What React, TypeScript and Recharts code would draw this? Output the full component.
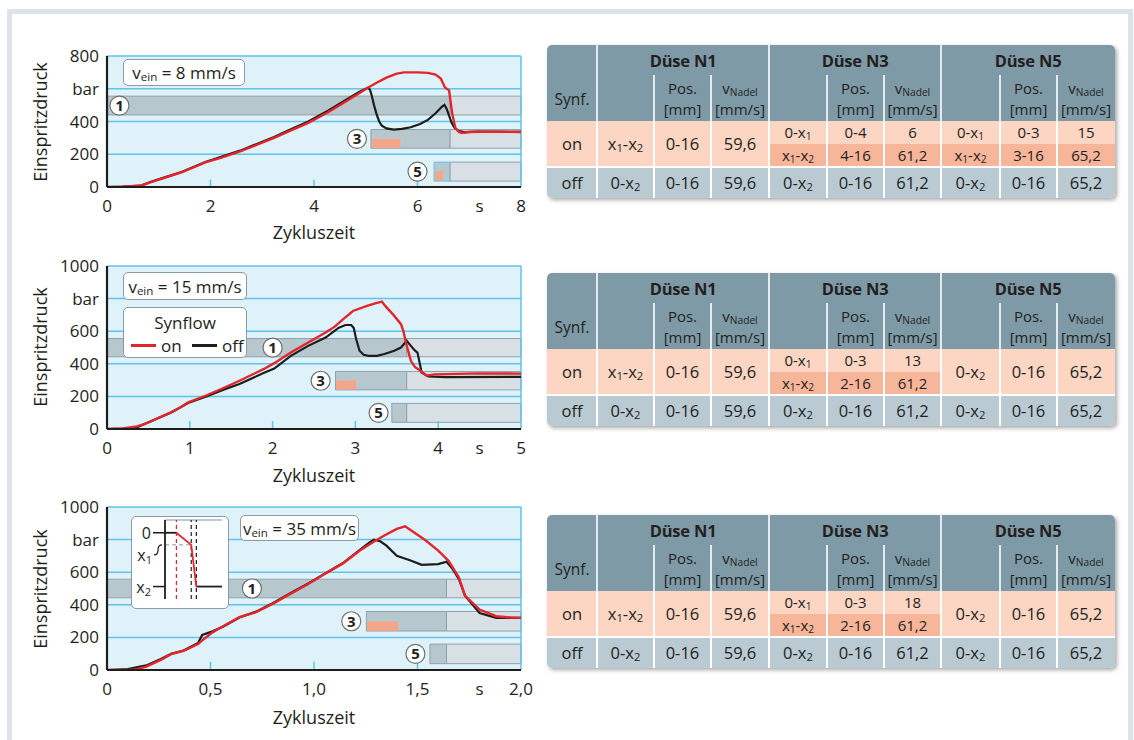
import React from 'react';
import {
  ComposedChart,
  Line,
  XAxis,
  YAxis,
  ReferenceArea,
  ReferenceLine,
  ReferenceDot,
  CartesianGrid,
  Legend,
} from 'recharts';

const FONT = '"Open Sans", "Noto Sans", "DejaVu Sans", sans-serif';
const TXT = '#231f20';
const PLOT_BG = '#dff2fa';
const GRID = '#5fc3ea';
const RED = '#e3262b';
const BLACK = '#1d1d1b';

type Pt = [number, number];
type BarSeg = { x1: number; x2: number; y1: number; y2: number; kind: string };
type Marker = { x: number; y: number; label: string };

// ---------------- Chart 1: v_ein = 8 mm/s ----------------
const c1On: Pt[] = [
  [0, 0], [0.3, 2], [0.65, 8], [0.85, 30], [1.1, 55], [1.44, 90], [1.6, 110], [1.9, 151], [2.2, 178],
  [2.57, 218], [2.9, 258], [3.23, 300], [3.5, 338], [3.89, 392], [4.28, 458], [4.55, 510], [4.88, 574],
  [5.04, 606], [5.21, 637], [5.4, 668], [5.6, 692], [5.74, 700], [6.0, 700], [6.2, 697], [6.35, 686],
  [6.45, 662], [6.53, 608], [6.61, 590], [6.64, 520], [6.67, 450], [6.73, 362], [6.8, 336], [6.86, 330],
  [7.0, 336], [7.19, 337], [7.6, 337], [8, 336],
];
const c1Off: Pt[] = [
  [0, 0], [0.3, 2], [0.65, 8], [0.85, 32], [1.1, 58], [1.44, 92], [1.9, 153], [2.57, 222], [3.23, 305],
  [3.5, 345], [3.89, 400], [4.28, 468], [4.55, 520], [4.88, 582], [5.04, 606], [5.08, 595], [5.11, 565],
  [5.16, 500], [5.21, 443], [5.26, 400], [5.31, 375], [5.4, 358], [5.54, 350], [5.7, 355], [5.87, 365],
  [6.05, 385], [6.2, 410], [6.35, 450], [6.47, 490], [6.52, 502], [6.56, 480], [6.6, 445], [6.66, 392],
  [6.72, 360], [6.8, 341], [6.9, 335], [7.19, 338], [8, 337],
];
const c1XTicks = [0, 2, 4, 6, 7.2, 8];
const c1XLabels = ['0', '2', '4', '6', 's', '8'];
const c1YTicks = [0, 200, 400, 600, 800];
const c1YLabels = ['0', '200', '400', 'bar', '800'];
const c1Stubs = [2, 4, 6];
const c1Grid = [200, 400, 600, 800];
const c1Bars: BarSeg[] = [
  { x1: 0, x2: 6.63, y1: 440, y2: 555, kind: 'dark' },
  { x1: 6.63, x2: 8, y1: 440, y2: 555, kind: 'light' },
  { x1: 5.1, x2: 6.63, y1: 237, y2: 351, kind: 'dark' },
  { x1: 6.63, x2: 8, y1: 237, y2: 351, kind: 'light' },
  { x1: 5.12, x2: 5.67, y1: 240, y2: 294, kind: 'salmon' },
  { x1: 6.32, x2: 6.63, y1: 36, y2: 152, kind: 'darkHi' },
  { x1: 6.63, x2: 8, y1: 36, y2: 152, kind: 'light' },
  { x1: 6.34, x2: 6.49, y1: 38, y2: 96, kind: 'salmon' },
];
const c1Markers: Marker[] = [
  { x: 0.24, y: 497, label: '1' },
  { x: 4.83, y: 294, label: '3' },
  { x: 6.0, y: 94, label: '5' },
];

// ---------------- Chart 2: v_ein = 15 mm/s ----------------
const c2On: Pt[] = [
  [0, 0], [0.19, 4], [0.36, 16], [0.45, 30], [0.53, 47], [0.65, 75], [0.77, 102], [0.88, 130], [0.98, 163],
  [1.19, 204], [1.4, 250], [1.6, 296], [1.8, 345], [1.89, 367], [2.02, 404], [2.22, 469], [2.43, 531],
  [2.64, 592], [2.75, 628], [2.85, 673], [2.97, 724], [3.14, 755], [3.25, 772], [3.32, 782], [3.36, 755],
  [3.47, 694], [3.55, 643], [3.58, 600], [3.61, 531], [3.67, 418], [3.72, 380], [3.76, 367], [3.86, 327],
  [3.96, 335], [4.5, 341], [5, 340],
];
const c2Off: Pt[] = [
  [0, 0], [0.2, 3], [0.36, 10], [0.53, 47], [0.77, 100], [0.98, 159], [1.2, 200], [1.4, 240], [1.6, 276],
  [1.89, 343], [2.02, 371], [2.22, 449], [2.43, 510], [2.64, 561], [2.8, 622], [2.88, 638], [2.95, 638],
  [2.98, 620], [3.01, 551], [3.05, 480], [3.1, 455], [3.16, 449], [3.26, 449], [3.35, 460], [3.47, 480],
  [3.55, 500], [3.62, 541], [3.67, 510], [3.72, 480], [3.75, 469], [3.8, 347], [3.88, 322], [4.09, 318],
  [5, 320],
];
const c2XTicks = [0, 1, 2, 3, 4, 4.5, 5];
const c2XLabels = ['0', '1', '2', '3', '4', 's', '5'];
const c2YTicks = [0, 200, 400, 600, 800, 1000];
const c2YLabels = ['0', '200', '400', '600', 'bar', '1000'];
const c2Stubs = [1, 2, 3, 4];
const c2Grid = [200, 400, 600, 800, 1000];
const c2Bars: BarSeg[] = [
  { x1: 0, x2: 3.62, y1: 443, y2: 555, kind: 'dark' },
  { x1: 3.62, x2: 5, y1: 443, y2: 555, kind: 'light' },
  { x1: 2.76, x2: 3.62, y1: 240, y2: 353, kind: 'dark' },
  { x1: 3.62, x2: 5, y1: 240, y2: 353, kind: 'light' },
  { x1: 2.77, x2: 3.01, y1: 242, y2: 298, kind: 'salmon' },
  { x1: 3.44, x2: 3.62, y1: 41, y2: 157, kind: 'dark' },
  { x1: 3.62, x2: 5, y1: 41, y2: 157, kind: 'light' },
];
const c2Markers: Marker[] = [
  { x: 2.0, y: 499, label: '1' },
  { x: 2.58, y: 296, label: '3' },
  { x: 3.28, y: 99, label: '5' },
];

// ---------------- Chart 3: v_ein = 35 mm/s ----------------
const c3On: Pt[] = [
  [0, 0], [0.1, 1], [0.14, 4], [0.19, 21], [0.26, 62], [0.31, 97], [0.37, 118], [0.44, 159], [0.47, 192],
  [0.51, 231], [0.56, 268], [0.64, 324], [0.72, 355], [0.8, 406], [0.89, 470], [0.97, 526], [1.05, 588],
  [1.14, 654], [1.22, 732], [1.29, 788], [1.34, 825], [1.4, 866], [1.44, 882], [1.47, 856], [1.54, 794],
  [1.6, 732], [1.65, 670], [1.7, 567], [1.73, 454], [1.8, 371], [1.88, 330], [1.95, 322], [2.0, 320],
];
const c3Off: Pt[] = [
  [0, 0], [0.1, 5], [0.19, 28], [0.26, 68], [0.31, 100], [0.37, 120], [0.44, 165], [0.46, 215], [0.51, 237],
  [0.56, 265], [0.64, 322], [0.72, 358], [0.8, 410], [0.89, 474], [0.97, 530], [1.05, 590], [1.14, 656],
  [1.22, 735], [1.27, 785], [1.29, 800], [1.32, 790], [1.35, 763], [1.4, 700], [1.47, 670], [1.52, 645],
  [1.6, 650], [1.64, 664], [1.67, 619], [1.7, 557], [1.73, 454], [1.8, 350], [1.88, 320], [2.0, 320],
];
const c3XTicks = [0, 0.5, 1, 1.5, 1.8, 2];
const c3XLabels = ['0', '0,5', '1,0', '1,5', 's', '2,0'];
const c3YTicks = [0, 200, 400, 600, 800, 1000];
const c3YLabels = ['0', '200', '400', '600', 'bar', '1000'];
const c3Stubs = [0.5, 1, 1.5];
const c3Grid = [200, 400, 600, 800, 1000];
const c3Bars: BarSeg[] = [
  { x1: 0, x2: 1.64, y1: 443, y2: 557, kind: 'dark' },
  { x1: 1.64, x2: 2, y1: 443, y2: 557, kind: 'light' },
  { x1: 1.253, x2: 1.64, y1: 239, y2: 359, kind: 'dark' },
  { x1: 1.64, x2: 2, y1: 239, y2: 359, kind: 'light' },
  { x1: 1.256, x2: 1.406, y1: 241, y2: 297, kind: 'salmon' },
  { x1: 1.56, x2: 1.64, y1: 39, y2: 159, kind: 'dark' },
  { x1: 1.64, x2: 2, y1: 39, y2: 159, kind: 'light' },
];
const c3Markers: Marker[] = [
  { x: 0.7, y: 500, label: '1' },
  { x: 1.18, y: 299, label: '3' },
  { x: 1.49, y: 99, label: '5' },
];

// ---------------- Inset (needle position schematic) ----------------
const insetRed: Pt[] = [[2, 0], [4.6, 3.6], [5.5, 16]];
const insetBlackA: Pt[] = [[0, 0], [2, 0]];
const insetBlackB: Pt[] = [[5.5, 16], [10, 16]];
const insetYTicks = [0, 3.6, 16];
const insetYLabels = ['0', 'x1', 'x2'];
const insetRedDash = 2;
const insetBlackDash = [4.6, 5.5];

// ---------------- Tables ----------------
const groupTitles = ['Düse N1', 'Düse N3', 'Düse N5'];
const subHeads = [['', ''], ['Pos.', '[mm]'], ['v_Nadel', '[mm/s]']];
const rowLabels = ['on', 'off'];
const table1On = [
  [['x1-x2', '0-16', '59,6']],
  [['0-x1', '0-4', '6'], ['x1-x2', '4-16', '61,2']],
  [['0-x1', '0-3', '15'], ['x1-x2', '3-16', '65,2']],
];
const table2On = [
  [['x1-x2', '0-16', '59,6']],
  [['0-x1', '0-3', '13'], ['x1-x2', '2-16', '61,2']],
  [['0-x2', '0-16', '65,2']],
];
const table3On = [
  [['x1-x2', '0-16', '59,6']],
  [['0-x1', '0-3', '18'], ['x1-x2', '2-16', '61,2']],
  [['0-x2', '0-16', '65,2']],
];
const tableOff = [
  ['0-x2', '0-16', '59,6'],
  ['0-x2', '0-16', '61,2'],
  ['0-x2', '0-16', '65,2'],
];

const toData = (pts: Pt[]) => pts.map(([t, p]) => ({ t, p }));

const barStyle = (kind: string) => {
  switch (kind) {
    case 'dark':
      return { fill: '#b7c7ce', stroke: '#8fa2ab' };
    case 'darkHi':
      return { fill: '#b7c7ce', stroke: '#5fc3ea' };
    case 'light':
      return { fill: '#d9e0e5', stroke: '#8fa2ab' };
    default:
      return { fill: '#f5a689', stroke: 'none' };
  }
};

const SUB: React.CSSProperties = { fontSize: '0.68em', verticalAlign: '-0.2em', lineHeight: 0 };

const rich = (s: string) => {
  if (s.startsWith('v_')) {
    return (
      <span>
        v<sub style={SUB}>{s.slice(2)}</sub>
      </span>
    );
  }
  return s.split(/(x\d)/).map((part, i) =>
    /^x\d$/.test(part) ? (
      <span key={i}>
        x<sub style={SUB}>{part[1]}</sub>
      </span>
    ) : (
      <span key={i}>{part}</span>
    )
  );
};

const LegendBox = (props: any) => {
  const order = ['on', 'off'];
  const items = [...(props.payload || [])].sort(
    (a: any, b: any) => order.indexOf(a.value) - order.indexOf(b.value)
  );
  return (
    <div
      style={{
        position: 'relative',
        width: 124,
        height: 51,
        boxSizing: 'border-box',
        border: '1px solid #8b9ba4',
        borderRadius: 5,
        background: '#fff',
        fontFamily: FONT,
        color: TXT,
      }}
    >
      <div style={{ position: 'absolute', left: 0, right: 0, top: 3, textAlign: 'center', fontSize: 17 }}>
        Synflow
      </div>
      {items.map((it: any, i: number) => (
        <div
          key={it.value}
          style={{ position: 'absolute', left: i === 0 ? 7 : 68, top: 26, display: 'flex', alignItems: 'center', fontSize: 17 }}
        >
          <span style={{ display: 'inline-block', width: 25, height: 3, background: it.color, marginRight: 5 }} />
          <span>{it.value}</span>
        </div>
      ))}
    </div>
  );
};

type ChartProps = {
  top: number;
  height: number;
  margin: { top: number; right: number; bottom: number; left: number };
  xDomain: [number, number];
  yDomain: [number, number];
  xTicks: number[];
  xLabels: string[];
  yTicks: number[];
  yLabels: string[];
  stubs: number[];
  stubH: number;
  grid: number[];
  bars: BarSeg[];
  markers: Marker[];
  on: Pt[];
  off: Pt[];
  legend?: boolean;
};

function PressureChart(p: ChartProps) {
  return (
    <div style={{ position: 'absolute', left: 0, top: p.top, width: 540, height: p.height }}>
      <ComposedChart width={540} height={p.height} margin={p.margin} style={{ fontFamily: FONT }}>
        <CartesianGrid fill={PLOT_BG} horizontal={false} vertical={false} stroke="none" />
        <XAxis
          type="number"
          dataKey="t"
          domain={p.xDomain}
          ticks={p.xTicks}
          interval={0}
          allowDataOverflow
          tickFormatter={(v: number) => p.xLabels[p.xTicks.indexOf(v)] ?? String(v)}
          axisLine={{ stroke: BLACK, strokeWidth: 2.2 }}
          tickLine={false}
          tickSize={6}
          tickMargin={7}
          height={30}
          tick={{ fontSize: 17, fill: TXT, fontFamily: FONT }}
        />
        <YAxis
          type="number"
          domain={p.yDomain}
          ticks={p.yTicks}
          interval={0}
          allowDataOverflow
          tickFormatter={(v: number) => p.yLabels[p.yTicks.indexOf(v)] ?? String(v)}
          axisLine={{ stroke: BLACK, strokeWidth: 2.2 }}
          tickLine={false}
          tickSize={6}
          tickMargin={2}
          width={60}
          tick={{ fontSize: 17, fill: TXT, fontFamily: FONT }}
        />
        {p.grid.map((g) => (
          <ReferenceLine key={'g' + g} y={g} stroke={GRID} strokeWidth={1.5} />
        ))}
        <ReferenceLine x={p.xDomain[1]} stroke={GRID} strokeWidth={1.5} />
        {p.stubs.map((s) => (
          <ReferenceLine
            key={'s' + s}
            segment={[{ x: s, y: 0 }, { x: s, y: p.stubH }]}
            stroke={GRID}
            strokeWidth={1.5}
          />
        ))}
        {p.bars.map((b, i) => {
          const st = barStyle(b.kind);
          return (
            <ReferenceArea
              key={'b' + i}
              x1={b.x1}
              x2={b.x2}
              y1={b.y1}
              y2={b.y2}
              fill={st.fill}
              fillOpacity={1}
              stroke={st.stroke}
              strokeWidth={1}
            />
          );
        })}
        {p.markers.map((m) => (
          <ReferenceDot
            key={'m' + m.label}
            x={m.x}
            y={m.y}
            r={9.5}
            fill="#fff"
            stroke="#707070"
            strokeWidth={1.2}
            label={{ value: m.label, position: 'center', fontSize: 15, fontWeight: 700, fill: TXT, fontFamily: FONT }}
          />
        ))}
        <Line
          name="off"
          type="linear"
          data={toData(p.off)}
          dataKey="p"
          stroke={BLACK}
          strokeWidth={2.2}
          dot={false}
          isAnimationActive={false}
        />
        <Line
          name="on"
          type="linear"
          data={toData(p.on)}
          dataKey="p"
          stroke={RED}
          strokeWidth={2.4}
          dot={false}
          isAnimationActive={false}
        />
        {p.legend && (
          <Legend
            layout="vertical"
            align="center"
            verticalAlign="middle"
            content={LegendBox}
            wrapperStyle={{ position: 'absolute', left: 123, top: 57, width: 124, height: 51, margin: 0, padding: 0 }}
          />
        )}
      </ComposedChart>
    </div>
  );
}

const InsetTick = (props: any) => {
  const { x, y, payload } = props;
  const i = insetYTicks.indexOf(payload.value);
  const lab = insetYLabels[i];
  if (lab === 'x1') {
    return (
      <g>
        <path
          d={`M${x - 11},${y + 10} Q${x - 7},${y + 10} ${x - 7},${y + 5} Q${x - 7},${y} ${x - 3},${y}`}
          stroke={BLACK}
          strokeWidth={1.2}
          fill="none"
        />
        <text x={x - 13} y={y + 10} textAnchor="end" dominantBaseline="central" fontSize={16} fill={TXT} fontFamily={FONT}>
          x<tspan fontSize={11} dy={4}>1</tspan>
        </text>
      </g>
    );
  }
  return (
    <g>
      <line x1={x - 12} x2={x} y1={y} y2={y} stroke={BLACK} strokeWidth={1.5} />
      <text x={x - 14} y={y} textAnchor="end" dominantBaseline="central" fontSize={16} fill={TXT} fontFamily={FONT}>
        {lab === 'x2' ? (
          <>
            x<tspan fontSize={11} dy={4}>2</tspan>
          </>
        ) : (
          lab
        )}
      </text>
    </g>
  );
};

function Inset() {
  return (
    <div style={{ position: 'absolute', left: 131, top: 516, width: 98, height: 93 }}>
      <div
        style={{
          position: 'absolute',
          inset: 0,
          border: '1px solid #8b9ba4',
          borderRadius: 5,
          background: '#fff',
          boxSizing: 'border-box',
        }}
      />
      <div style={{ position: 'absolute', left: 0, top: 0 }}>
        <ComposedChart width={98} height={93} margin={{ top: 4, right: 7, bottom: 10, left: 0 }}>
          <XAxis type="number" dataKey="t" domain={[0, 10]} tick={false} tickLine={false} height={0} axisLine={{ stroke: BLACK, strokeWidth: 1.8 }} />
          <YAxis
            type="number"
            domain={[-3.8, 19.7]}
            reversed
            ticks={insetYTicks}
            interval={0}
            width={34}
            tickSize={0}
            tickMargin={0}
            tickLine={false}
            tick={InsetTick}
            axisLine={{ stroke: BLACK, strokeWidth: 1.8 }}
          />
          <ReferenceLine y={-3.8} stroke="#7d98a6" strokeWidth={1} />
          <ReferenceLine
            segment={[{ x: 0, y: insetYTicks[1] }, { x: insetBlackDash[0], y: insetYTicks[1] }]}
            stroke="#7d98a6"
            strokeDasharray="4 3"
            strokeWidth={1}
          />
          <ReferenceLine x={insetRedDash} stroke={RED} strokeDasharray="4 3" strokeWidth={1.2} />
          {insetBlackDash.map((d) => (
            <ReferenceLine key={d} x={d} stroke={BLACK} strokeDasharray="4 3" strokeWidth={1.2} />
          ))}
          <Line data={toData(insetBlackA)} dataKey="p" stroke={BLACK} strokeWidth={1.8} dot={false} isAnimationActive={false} />
          <Line data={toData(insetBlackB)} dataKey="p" stroke={BLACK} strokeWidth={1.8} dot={false} isAnimationActive={false} />
          <Line data={toData(insetRed)} dataKey="p" stroke={RED} strokeWidth={1.8} dot={false} isAnimationActive={false} />
        </ComposedChart>
      </div>
    </div>
  );
}

const COLS = [0, 50, 107, 164, 222, 280, 337, 394, 453, 510, 568];
const HEAD_H = 76;
const ON_H = 45;
const OFF_H = 30;
const HEAD_BG = '#7f9aa7';
const ON_BG = '#fdd5c3';
const ON_DARK = '#f7b59a';
const OFF_BG = '#b9cad3';

const Cell = ({ x0, x1, y0, y1, bg, children, size = 16.5 }: any) => (
  <div
    style={{
      position: 'absolute',
      left: x0,
      top: y0,
      width: x1 - x0,
      height: y1 - y0,
      background: bg,
      display: 'flex',
      alignItems: 'center',
      justifyContent: 'center',
      fontSize: size,
      color: TXT,
      whiteSpace: 'nowrap',
    }}
  >
    {children}
  </div>
);

function NozzleTable({ top, onRows }: { top: number; onRows: string[][][] }) {
  const W = COLS[COLS.length - 1];
  const bodyTop = HEAD_H;
  const offTop = HEAD_H + ON_H + 1.5;
  const H = offTop + OFF_H;
  const els: React.ReactNode[] = [];
  els.push(<div key="hbg" style={{ position: 'absolute', left: 0, top: 0, width: W, height: HEAD_H, background: HEAD_BG }} />);
  groupTitles.forEach((g, gi) => {
    els.push(
      <Cell key={'gt' + gi} x0={COLS[1 + gi * 3]} x1={COLS[4 + gi * 3]} y0={0} y1={30} size={16.5}>
        <b style={{ fontWeight: 700, letterSpacing: -0.2 }}>{g}</b>
      </Cell>
    );
    subHeads.forEach((sh, si) => {
      const c = 1 + gi * 3 + si;
      if (!sh[0] && !sh[1]) return;
      els.push(
        <div
          key={'sh' + c}
          style={{
            position: 'absolute',
            left: COLS[c],
            width: COLS[c + 1] - COLS[c],
            top: 33,
            fontSize: 15,
            lineHeight: '21px',
            textAlign: 'center',
            color: TXT,
            whiteSpace: 'nowrap',
          }}
        >
          <div style={{ height: 21 }}>{rich(sh[0])}</div>
          <div style={{ height: 21 }}>{sh[1]}</div>
        </div>
      );
    });
  });
  els.push(
    <Cell key="synf" x0={COLS[0]} x1={COLS[1]} y0={36} y1={72} size={15.5}>
      Synf.
    </Cell>
  );
  els.push(
    <Cell key="onl" x0={COLS[0]} x1={COLS[1]} y0={bodyTop} y1={bodyTop + ON_H} bg={ON_BG}>
      {rowLabels[0]}
    </Cell>
  );
  onRows.forEach((rows, gi) => {
    const h = ON_H / rows.length;
    rows.forEach((r, ri) => {
      r.forEach((v, ci) => {
        const c = 1 + gi * 3 + ci;
        els.push(
          <Cell
            key={`on${gi}${ri}${ci}`}
            x0={COLS[c]}
            x1={COLS[c + 1]}
            y0={bodyTop + ri * h}
            y1={bodyTop + (ri + 1) * h}
            bg={ri === 1 ? ON_DARK : ON_BG}
            size={rows.length === 2 ? 15 : 16.5}
          >
            <span>{rich(v)}</span>
          </Cell>
        );
      });
    });
  });
  els.push(
    <Cell key="offl" x0={COLS[0]} x1={COLS[1]} y0={offTop} y1={H} bg={OFF_BG}>
      {rowLabels[1]}
    </Cell>
  );
  tableOff.forEach((r, gi) => {
    r.forEach((v, ci) => {
      const c = 1 + gi * 3 + ci;
      els.push(
        <Cell key={`off${gi}${ci}`} x0={COLS[c]} x1={COLS[c + 1]} y0={offTop} y1={H} bg={OFF_BG}>
          {rich(v)}
        </Cell>
      );
    });
  });
  COLS.slice(1, -1).forEach((x, i) => {
    const major = (i + 1) % 3 === 1;
    els.push(
      <div
        key={'hl' + i}
        style={{
          position: 'absolute',
          left: x - 0.75,
          width: 1.5,
          top: major ? 0 : 30,
          height: major ? HEAD_H : HEAD_H - 30,
          background: '#e4ebee',
        }}
      />
    );
    els.push(
      <div key={'bl' + i} style={{ position: 'absolute', left: x - 0.75, width: 1.5, top: HEAD_H, height: H - HEAD_H, background: '#fff' }} />
    );
  });
  return (
    <div
      style={{
        position: 'absolute',
        left: 547,
        top,
        width: W,
        height: H,
        borderRadius: 5,
        overflow: 'hidden',
        background: '#fff',
        boxShadow: '2px 2px 4px rgba(0,0,0,0.35)',
        fontFamily: FONT,
      }}
    >
      {els}
    </div>
  );
}

const Box = ({ left, top, width, height, v }: any) => (
  <div
    style={{
      position: 'absolute',
      left,
      top,
      width,
      height,
      boxSizing: 'border-box',
      border: '1px solid #8b9ba4',
      borderRadius: 5,
      background: '#fff',
      display: 'flex',
      alignItems: 'center',
      justifyContent: 'center',
      fontSize: 17,
      color: TXT,
      whiteSpace: 'nowrap',
    }}
  >
    <span>
      v<sub style={SUB}>ein</sub> = {v} mm/s
    </span>
  </div>
);

const YTitle = ({ cy }: { cy: number }) => (
  <div
    style={{
      position: 'absolute',
      left: 40,
      top: cy,
      transform: 'translate(-50%, -50%) rotate(-90deg)',
      fontSize: 18,
      color: TXT,
      whiteSpace: 'nowrap',
    }}
  >
    Einspritzdruck
  </div>
);
const XTitle = ({ cy }: { cy: number }) => (
  <div
    style={{
      position: 'absolute',
      left: 314,
      top: cy,
      transform: 'translate(-50%, -50%)',
      fontSize: 18,
      color: TXT,
      whiteSpace: 'nowrap',
    }}
  >
    Zykluszeit
  </div>
);

export default function App() {
  return (
    <div
      style={{
        position: 'absolute',
        left: 0,
        top: 0,
        width: 1134,
        height: 740,
        overflow: 'hidden',
        background: '#fff',
        fontFamily: FONT,
      }}
    >
      <div
        style={{
          position: 'absolute',
          left: 7,
          top: 9,
          width: 1126,
          height: 731,
          boxSizing: 'border-box',
          border: '5px solid #dde4e9',
          borderBottom: 'none',
        }}
      />
      <PressureChart
        top={30}
        height={200}
        margin={{ top: 26, right: 19, bottom: 13, left: 47 }}
        xDomain={[0, 8]}
        yDomain={[0, 800]}
        xTicks={c1XTicks}
        xLabels={c1XLabels}
        yTicks={c1YTicks}
        yLabels={c1YLabels}
        stubs={c1Stubs}
        stubH={45}
        grid={c1Grid}
        bars={c1Bars}
        markers={c1Markers}
        on={c1On}
        off={c1Off}
      />
      <PressureChart
        top={250}
        height={215}
        margin={{ top: 16, right: 19, bottom: 6, left: 47 }}
        xDomain={[0, 5]}
        yDomain={[0, 1000]}
        xTicks={c2XTicks}
        xLabels={c2XLabels}
        yTicks={c2YTicks}
        yLabels={c2YLabels}
        stubs={c2Stubs}
        stubH={49}
        grid={c2Grid}
        bars={c2Bars}
        markers={c2Markers}
        on={c2On}
        off={c2Off}
        legend
      />
      <PressureChart
        top={495}
        height={210}
        margin={{ top: 12, right: 19, bottom: 5, left: 47 }}
        xDomain={[0, 2]}
        yDomain={[0, 1000]}
        xTicks={c3XTicks}
        xLabels={c3XLabels}
        yTicks={c3YTicks}
        yLabels={c3YLabels}
        stubs={c3Stubs}
        stubH={50}
        grid={c3Grid}
        bars={c3Bars}
        markers={c3Markers}
        on={c3On}
        off={c3Off}
      />
      <Box left={123} top={59} width={122} height={27} v="8" />
      <Box left={123} top={272} width={124} height={28} v="15" />
      <Box left={240} top={515} width={119} height={26} v="35" />
      <Inset />
      <YTitle cy={122} />
      <YTitle cy={347} />
      <YTitle cy={589} />
      <XTitle cy={232} />
      <XTitle cy={475} />
      <XTitle cy={717} />
      <NozzleTable top={45} onRows={table1On} />
      <NozzleTable top={273} onRows={table2On} />
      <NozzleTable top={515} onRows={table3On} />
    </div>
  );
}
